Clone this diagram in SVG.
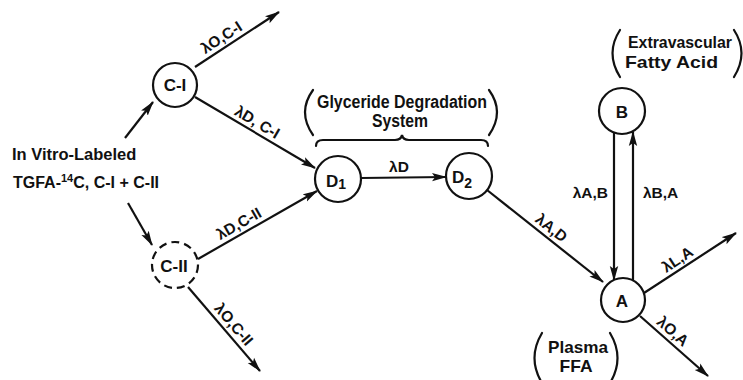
<svg xmlns="http://www.w3.org/2000/svg" width="743" height="380" viewBox="0 0 743 380">
<style>
.t{font-family:"Liberation Sans","DejaVu Sans",sans-serif;font-weight:bold;fill:#111;}
.lab{font-size:15.5px;}
.big{font-size:17px;}
.node{fill:#fff;stroke:#111;stroke-width:2.2;}
.dash{stroke-dasharray:8 5;}
.ln{fill:none;stroke:#111;stroke-width:2.2;}
.br{fill:none;stroke:#111;stroke-width:2.2;stroke-linecap:round;}
</style>
<defs>
<marker id="ah" markerUnits="userSpaceOnUse" markerWidth="16" markerHeight="10" refX="14" refY="5" orient="auto">
<path d="M0,0.8 L15,5 L0,9.2 L3,5 Z" fill="#111"/>
</marker>
</defs>
<rect width="743" height="380" fill="#fff"/>

<g id="connectors">
<line class="ln" x1="125" y1="138" x2="153" y2="102" marker-end="url(#ah)"/>
<line class="ln" x1="128" y1="203" x2="152" y2="245" marker-end="url(#ah)"/>
<line class="ln" x1="195" y1="67" x2="279" y2="12" marker-end="url(#ah)"/>
<line class="ln" x1="195" y1="97" x2="315" y2="168" marker-end="url(#ah)"/>
<line class="ln" x1="198" y1="259" x2="317" y2="191" marker-end="url(#ah)"/>
<line class="ln" x1="188" y1="287" x2="260" y2="371" marker-end="url(#ah)"/>
<line class="ln" x1="361" y1="178" x2="446" y2="177" marker-end="url(#ah)"/>
<line class="ln" x1="487" y1="190" x2="603" y2="282" marker-end="url(#ah)"/>
<line class="ln" x1="614" y1="133" x2="614" y2="280" marker-end="url(#ah)"/>
<line class="ln" x1="633" y1="280" x2="633" y2="132" marker-end="url(#ah)"/>
<line class="ln" x1="644" y1="293" x2="736" y2="233" marker-end="url(#ah)"/>
<line class="ln" x1="640" y1="316" x2="708" y2="376" marker-end="url(#ah)"/>

<text class="t lab" text-anchor="middle" transform="translate(227,46) rotate(-33.2)" y="-5">λO,C-I</text>
<text class="t lab" text-anchor="middle" transform="translate(252,131) rotate(30.6)" y="-5">λD, C-I</text>
<text class="t lab" text-anchor="middle" transform="translate(244,232.5) rotate(-29.7)" y="-5">λD,C-II</text>
<text class="t lab" text-anchor="middle" transform="translate(226,331) rotate(49.4)" y="-5">λO,C-II</text>
<text class="t lab" text-anchor="middle" x="399" y="172">λD</text>
<text class="t lab" text-anchor="middle" transform="translate(545,236) rotate(38.4)" y="-5">λA,D</text>
<text class="t lab" text-anchor="end" x="608" y="198">λA,B</text>
<text class="t lab" text-anchor="start" x="643" y="198">λB,A</text>
<text class="t lab" text-anchor="middle" transform="translate(683,268) rotate(-33.1)" y="-5">λL,A</text>
<text class="t lab" text-anchor="middle" transform="translate(666,339) rotate(41.4)" y="-5">λO,A</text>
</g>

<g id="source">
<text class="t" font-size="16.5" x="12" y="160">In Vitro-Labeled</text>
<text class="t" font-size="16" x="13" y="188">TGFA-<tspan font-size="11" dy="-6">14</tspan><tspan dy="6">C, C-I + C-II</tspan></text>
</g>

<g id="node-C-I">
<circle class="node" cx="175" cy="85" r="22"/>
<text class="t big" text-anchor="middle" x="175" y="91">C-I</text>
</g>

<g id="node-C-II">
<circle class="node dash" cx="175" cy="265" r="23"/>
<text class="t big" text-anchor="middle" x="174" y="272">C-II</text>
</g>

<g id="node-D1">
<circle class="node" cx="338" cy="179" r="23"/>
<text class="t big" x="326" y="187">D<tspan font-size="14" dy="2">1</tspan></text>
</g>

<g id="node-D2">
<circle class="node" cx="469" cy="176" r="23"/>
<text class="t big" x="452" y="183">D<tspan font-size="14" dy="5">2</tspan></text>
</g>

<g id="node-B">
<circle class="node" cx="622" cy="111" r="23"/>
<text class="t big" text-anchor="middle" x="622" y="118">B</text>
</g>

<g id="node-A">
<circle class="node" cx="623" cy="300" r="22"/>
<text class="t big" text-anchor="middle" x="622" y="307">A</text>
</g>

<g id="group-glyceride">
<path class="br" d="M313,90 Q297,112 313,135"/>
<path class="br" d="M489,90 Q505,112 489,135"/>
<text class="t" font-size="18" text-anchor="middle" x="402" y="108" textLength="170" lengthAdjust="spacingAndGlyphs">Glyceride Degradation</text>
<text class="t" font-size="18" text-anchor="middle" x="400" y="127" textLength="56" lengthAdjust="spacingAndGlyphs">System</text>
<path class="br" d="M316,146 Q316,140 323,140 L395,140 Q401,140 402,135 Q403,140 409,140 L481,140 Q488,140 488,146"/>
</g>

<g id="group-extravascular">
<path class="br" d="M620,30 Q605,53 620,77"/>
<path class="br" d="M734,30 Q749,53 734,77"/>
<text class="t" font-size="17" text-anchor="middle" x="680" y="48" textLength="104" lengthAdjust="spacingAndGlyphs">Extravascular</text>
<text class="t" font-size="17" x="625" y="68" textLength="93" lengthAdjust="spacingAndGlyphs">Fatty Acid</text>
</g>

<g id="group-plasma">
<path class="br" d="M542,333 Q527,358 542,383"/>
<path class="br" d="M610,333 Q625,358 610,383"/>
<text class="t" font-size="17" text-anchor="middle" x="578" y="353" textLength="60" lengthAdjust="spacingAndGlyphs">Plasma</text>
<text class="t" font-size="17" text-anchor="middle" x="576" y="372" textLength="33" lengthAdjust="spacingAndGlyphs">FFA</text>
</g>
</svg>
